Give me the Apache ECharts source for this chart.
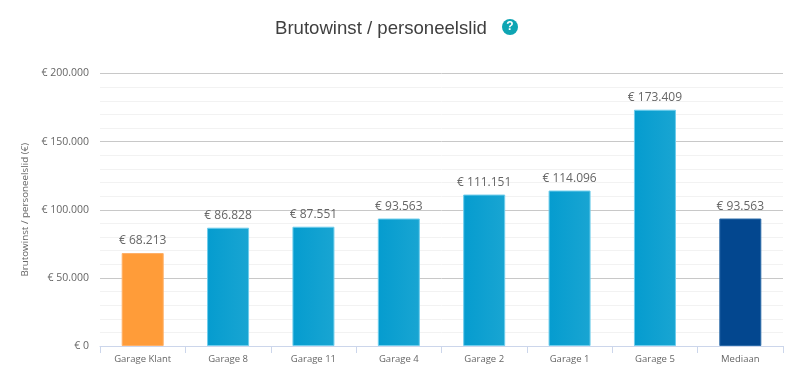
<!DOCTYPE html>
<html>
<head>
<meta charset="utf-8">
<script src="https://cdn.jsdelivr.net/npm/echarts@6/dist/echarts.min.js"></script>
<style>
  html, body { margin: 0; padding: 0; background: #fff; }
  #container { width: 803px; height: 389px; }
</style>
</head>
<body>
<div id="container"></div>
<script>
"use strict";

const categories = ['Garage Klant', 'Garage 8', 'Garage 11', 'Garage 4', 'Garage 2', 'Garage 1', 'Garage 5', 'Mediaan'];
const values = [68213, 86828, 87551, 93563, 111151, 114096, 173409, 93563];
const barKinds = ['client', 'garage', 'garage', 'garage', 'garage', 'garage', 'garage', 'median'];

const labelFont = '"Open Sans", sans-serif';

function euro(v) {
  return '€ ' + String(v).replace(/\B(?=(\d{3})+$)/g, '.');
}

const blue = new echarts.graphic.LinearGradient(0, 0, 1, 0, [
  { offset: 0, color: '#059ccf' },
  { offset: 1, color: '#19a5d2' },
]);
const fills = { client: '#ff9c39', garage: blue, median: '#03478f' };
const borders = { client: '#ffb066', garage: '#6fcdec', median: '#2a6aa8' };

let myChart = echarts.init(document.getElementById('container'), null, { renderer: 'canvas' });

let option = {
  animation: false,
  title: {
    text: 'Brutowinst / personeelslid',
    left: 270,
    top: 14,
    textStyle: {
      fontFamily: '"Liberation Sans", Arial, sans-serif',
      fontSize: 18.6,
      fontWeight: 'normal',
      color: '#3f3f3f',
    },
  },
  graphic: [
    {
      type: 'circle',
      shape: { cx: 510, cy: 27, r: 8 },
      style: { fill: '#0ea5b3' },
    },
    {
      type: 'text',
      x: 510,
      y: 27,
      style: {
        text: '?',
        fill: '#fff',
        font: 'bold 12px "Liberation Sans", Arial, sans-serif',
        align: 'center',
        verticalAlign: 'middle',
      },
    },
  ],
  grid: { left: 100, right: 20, top: 73.5, bottom: 43 },
  xAxis: {
    type: 'category',
    data: categories,
    axisLine: { lineStyle: { color: '#ccd6eb', width: 1 } },
    axisTick: { show: true, alignWithLabel: false, length: 7, lineStyle: { color: '#ccd6eb' } },
    axisLabel: { color: '#666', fontFamily: labelFont, fontSize: 9.5, margin: 8 },
  },
  yAxis: {
    type: 'value',
    min: 0,
    max: 200000,
    interval: 50000,
    name: 'Brutowinst / personeelslid (€)',
    nameLocation: 'middle',
    nameRotate: 90,
    nameGap: 63,
    nameTextStyle: { color: '#666', fontFamily: labelFont, fontSize: 9.8 },
    axisLine: { show: false },
    axisTick: { show: false },
    axisLabel: {
      color: '#666',
      fontFamily: labelFont,
      fontSize: 10.5,
      margin: 11,
      formatter: euro,
    },
    splitLine: { show: true, lineStyle: { color: '#c8c8c8', width: 1 } },
    minorTick: { show: false, splitNumber: 5 },
    minorSplitLine: { show: true, lineStyle: { color: '#f2f2f2', width: 1 } },
  },
  series: [
    {
      type: 'bar',
      barWidth: 42,
      data: values.map((v, i) => ({
        value: v,
        itemStyle: {
          color: fills[barKinds[i]],
          borderColor: borders[barKinds[i]],
          borderWidth: 1,
        },
      })),
      label: {
        show: true,
        position: 'top',
        distance: 6,
        color: '#666',
        fontFamily: labelFont,
        fontSize: 12,
        formatter: (p) => euro(p.value),
      },
    },
  ],
};

myChart.setOption(option);
</script>
</body>
</html>
